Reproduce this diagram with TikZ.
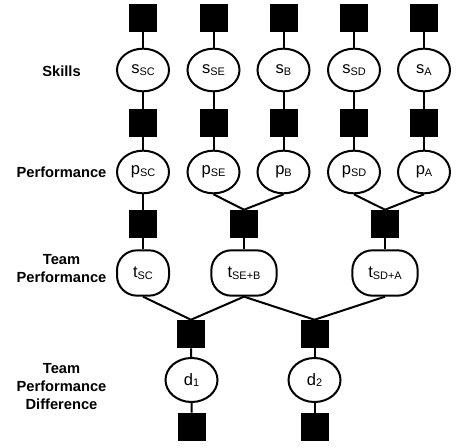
\documentclass[tikz,border=0pt]{standalone}
\usepackage{fontspec}
\setmainfont{Liberation Sans}
\usetikzlibrary{shapes.geometric}

\newcommand{\lsub}[1]{\raisebox{-1.3pt}{\fontsize{8.2}{9}\selectfont #1}}

\tikzset{
  fac/.style={rectangle, fill=black, draw=none, minimum size=21pt, inner sep=0pt},
  var/.style={ellipse, draw=black, line width=1.5pt, minimum width=39pt, minimum height=32pt, inner sep=0pt, font=\fontsize{12.4}{13}\selectfont},
  tvar/.style={rectangle, rounded corners=15pt, draw=black, line width=1.5pt, minimum height=34pt, inner sep=0pt, font=\fontsize{12.4}{13}\selectfont},
  lbl/.style={align=center, inner sep=0pt, font=\fontsize{11}{13.5}\selectfont\bfseries},
  conn/.style={draw=black, line width=1.5pt}
}

\begin{document}
\begin{tikzpicture}[x=0.75pt,y=0.75pt,yscale=-1,xscale=1]
\useasboundingbox (0,0) rectangle (459,448);

%Text: row labels
\node[lbl] (lSkills) at (61.5,71) {Skills};
\node[lbl] (lPerf) at (61.5,172) {Performance};
\node[lbl] (lTeam) at (61.5,269) {Team\\Performance};
\node[lbl] (lDiff) at (61.5,387) {Team\\Performance\\Difference};

%Shape: top factors
\node[fac] (fsSC) at (143,18) {};
\node[fac] (fsSE) at (213.5,18) {};
\node[fac] (fsB) at (283.5,18) {};
\node[fac] (fsSD) at (354,18) {};
\node[fac] (fsA) at (424,18) {};

%Shape: skills
\node[var] (sSC) at (143,70) {s\lsub{SC}};
\node[var] (sSE) at (213.5,70) {s\lsub{SE}};
\node[var] (sB) at (283.5,70) {s\lsub{B}};
\node[var] (sSD) at (354,70) {s\lsub{SD}};
\node[var] (sA) at (424,70) {s\lsub{A}};

%Shape: performance factors
\node[fac] (fpSC) at (143,123) {};
\node[fac] (fpSE) at (213.5,123) {};
\node[fac] (fpB) at (283.5,123) {};
\node[fac] (fpSD) at (354,123) {};
\node[fac] (fpA) at (424,123) {};

%Shape: performance
\node[var] (pSC) at (143,172) {p\lsub{SC}};
\node[var] (pSE) at (213.5,172) {p\lsub{SE}};
\node[var] (pB) at (283.5,172) {p\lsub{B}};
\node[var] (pSD) at (354,172) {p\lsub{SD}};
\node[var] (pA) at (424,172) {p\lsub{A}};

%Shape: team factors
\node[fac] (ftSC) at (143,224) {};
\node[fac] (ftSEB) at (244,224) {};
\node[fac] (ftSDA) at (385,224) {};

%Shape: team performance
\node[tvar, minimum width=39pt] (tSC) at (143,273) {t\lsub{SC}};
\node[tvar, minimum width=49pt] (tSEB) at (244,273) {t\lsub{SE+B}};
\node[tvar, minimum width=49pt] (tSDA) at (385,273) {t\lsub{SD+A}};

%Shape: difference factors
\node[fac] (fdOne) at (191,334) {};
\node[fac] (fdTwo) at (314.5,334) {};

%Shape: differences
\node[var, minimum height=33pt] (dOne) at (191.5,380) {d\lsub{1}};
\node[var, minimum height=33pt] (dTwo) at (314.5,380) {d\lsub{2}};

%Shape: bottom factors
\node[fac] (fbOne) at (191.5,427) {};
\node[fac] (fbTwo) at (314.5,427) {};

%Straight Lines: skills
\draw[conn] (fsSC) -- (sSC) -- (fpSC) -- (pSC) -- (ftSC) -- (tSC);
\draw[conn] (fsSE) -- (sSE) -- (fpSE) -- (pSE);
\draw[conn] (fsB) -- (sB) -- (fpB) -- (pB);
\draw[conn] (fsSD) -- (sSD) -- (fpSD) -- (pSD);
\draw[conn] (fsA) -- (sA) -- (fpA) -- (pA);

%Straight Lines: teams
\draw[conn] (pSE.south) -- (ftSEB.north) -- (pB.south);
\draw[conn] (pSD.south) -- (ftSDA.north) -- (pA.south);
\draw[conn] (ftSEB) -- (tSEB);
\draw[conn] (ftSDA) -- (tSDA);

%Straight Lines: differences
\draw[conn] (tSC.south) -- (fdOne.north) -- (tSEB.south) -- (fdTwo.north) -- (tSDA.south);
\draw[conn] (fdOne) -- (dOne) -- (fbOne);
\draw[conn] (fdTwo) -- (dTwo) -- (fbTwo);

\end{tikzpicture}
\end{document}
